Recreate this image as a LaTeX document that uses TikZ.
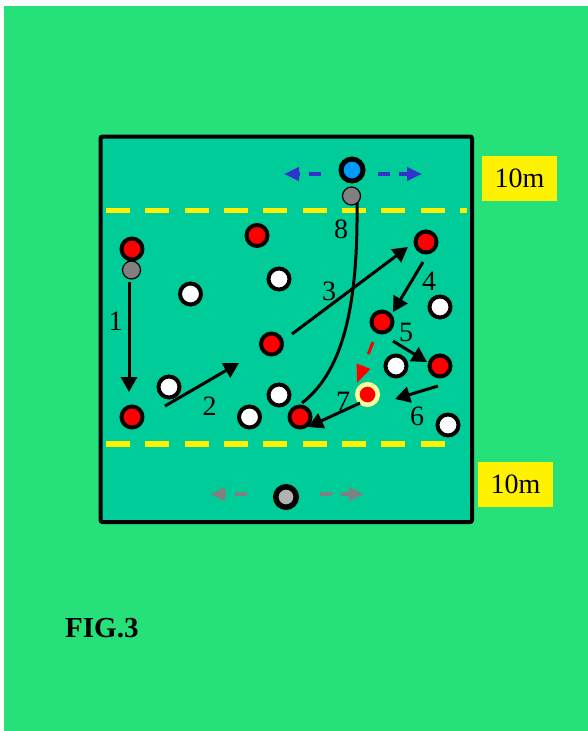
\documentclass[tikz,border=0pt]{standalone}
\usepackage{fontspec}
\setmainfont{Liberation Serif}
\usetikzlibrary{arrows.meta}
\definecolor{pitchgreen}{RGB}{38,224,122}
\definecolor{fieldteal}{RGB}{0,204,153}
\definecolor{keeperblue}{RGB}{0,153,255}
\definecolor{runblue}{RGB}{51,51,204}
\definecolor{paleyellow}{RGB}{255,255,153}
\definecolor{lightgrey}{RGB}{178,178,178}

\begin{document}
\begin{tikzpicture}
[x=1pt, y=-1pt, font=\fontsize{28}{28}\selectfont]

\tikzstyle{redman}=[circle, draw, line width=4pt, fill=red, inner sep=0pt, minimum size=21pt]
\tikzstyle{whiteman}=[redman, fill=white]
\tikzstyle{keeper}=[redman, fill=keeperblue, line width=5pt, minimum size=22pt]
\tikzstyle{greyman}=[redman, fill=lightgrey, line width=5.5pt, minimum size=20.5pt]
\tikzstyle{hilite}=[circle, draw=paleyellow, line width=4.5pt, fill=red, inner sep=0pt, minimum size=20.5pt]
\tikzstyle{ball}=[circle, draw, line width=1.2pt, fill=gray, inner sep=0pt, minimum size=18pt]
\tikzstyle{move}=[line width=3pt, -{Triangle[length=15pt, width=16pt]}]
\tikzstyle{slide}=[line width=4pt, dash pattern=on 12pt off 9pt, -{Triangle[length=15pt, width=13pt]}]
\tikzstyle{zone}=[yellow, line width=5.5pt, dash pattern=on 24pt off 15.33pt]
\tikzstyle{tenbox}=[fill=yellow, inner sep=0pt, minimum width=75pt, minimum height=45pt]
\tikzstyle{num}=[inner sep=0pt]

\fill[white] (0,0) rectangle (588,731);
\useasboundingbox (0,0) rectangle (588,731);
\fill[pitchgreen] (4,6) rectangle (588,731);
\draw[line width=4pt, fill=fieldteal, rounded corners=2pt] (100.5,136.5) rectangle (472,522);
\draw[zone] (106,210.5) -- (467,210.5);
\draw[zone] (106,444) -- (445,444);

\node[tenbox]	(top10)		at (519.5,178.5)	{10m};
\node[tenbox]	(bot10)		at (515.5,484.5)	{10m};
\node[anchor=base west, inner sep=0pt, font=\fontsize{29}{29}\selectfont\bfseries]	(fig)	at (65,637)	{FIG.3};

\node[keeper]	(K)	at (352,170)	{};
\node[ball]	(B8)	at (351.5,196)	{};
\node[greyman]	(G)	at (286,497)	{};

\node[redman]	(R1)	at (132,249)	{};
\node[ball]	(B1)	at (131.5,270)	{};
\node[redman]	(R2)	at (257,235.5)	{};
\node[redman]	(R3)	at (426,242)	{};
\node[redman]	(R4)	at (382,322)	{};
\node[redman]	(R5)	at (271.5,344)	{};
\node[redman]	(R6)	at (440,366)	{};
\node[redman]	(R7)	at (132,417)	{};
\node[redman]	(R8)	at (300,417)	{};
\node[hilite]	(H)	at (367.5,394.5)	{};

\node[whiteman]	(W1)	at (190.5,294)	{};
\node[whiteman]	(W2)	at (279,279)	{};
\node[whiteman]	(W3)	at (440,307)	{};
\node[whiteman]	(W4)	at (169,387)	{};
\node[whiteman]	(W5)	at (279,395)	{};
\node[whiteman]	(W6)	at (249.5,417)	{};
\node[whiteman]	(W7)	at (396,366)	{};
\node[whiteman]	(W8)	at (448,425)	{};

\coordinate	(kl)	at (321,174);
\coordinate	(kle)	at (284,174);
\coordinate	(kr)	at (378,174);
\coordinate	(kre)	at (422,174);
\coordinate	(gl)	at (247,494);
\coordinate	(gle)	at (210,494);
\coordinate	(gr)	at (320,494);
\coordinate	(gre)	at (364,494);
\draw[slide, runblue]	(kl) -- (kle);
\draw[slide, runblue]	(kr) -- (kre);
\draw[slide, gray]	(gl) -- (gle);
\draw[slide, gray]	(gr) -- (gre);

\coordinate	(s1)	at (129,282);
\coordinate	(e1)	at (129,392);
\coordinate	(s2)	at (165,406);
\coordinate	(e2)	at (239,363);
\coordinate	(s3)	at (292,334);
\coordinate	(e3)	at (408,247);
\coordinate	(s4)	at (423,262);
\coordinate	(e4)	at (393,312);
\coordinate	(s5)	at (393,341);
\coordinate	(e5)	at (427,362);
\coordinate	(s6)	at (438,386);
\coordinate	(e6)	at (395,399);
\coordinate	(s7)	at (360,403);
\coordinate	(e7)	at (308,427);
\coordinate	(s8)	at (357,203);
\coordinate	(e8)	at (302,403);
\coordinate	(sr)	at (373,342);
\coordinate	(er)	at (357,383);

\draw[move]	(s1) -- (e1);
\draw[move]	(s2) -- (e2);
\draw[move]	(s3) -- (e3);
\draw[move]	(s4) -- (e4);
\draw[move]	(s5) -- (e5);
\draw[move]	(s6) -- (e6);
\draw[move]	(s7) -- (e7);
\draw[line width=3pt]	(s8) .. controls (358,300) and (345,370) .. (e8);
\draw[red, line width=3pt, dash pattern=on 13pt off 13pt, -{Triangle[length=18pt, width=14pt]}]	(sr) -- (er);

\node[num]	(n1)	at (115.5,321.5)	{1};
\node[num]	(n2)	at (209.5,406)	{2};
\node[num]	(n3)	at (329,291)	{3};
\node[num]	(n4)	at (429,281)	{4};
\node[num]	(n5)	at (406,332)	{5};
\node[num]	(n6)	at (417,416)	{6};
\node[num]	(n7)	at (343,401)	{7};
\node[num]	(n8)	at (341,229)	{8};
\end{tikzpicture}
\end{document}
